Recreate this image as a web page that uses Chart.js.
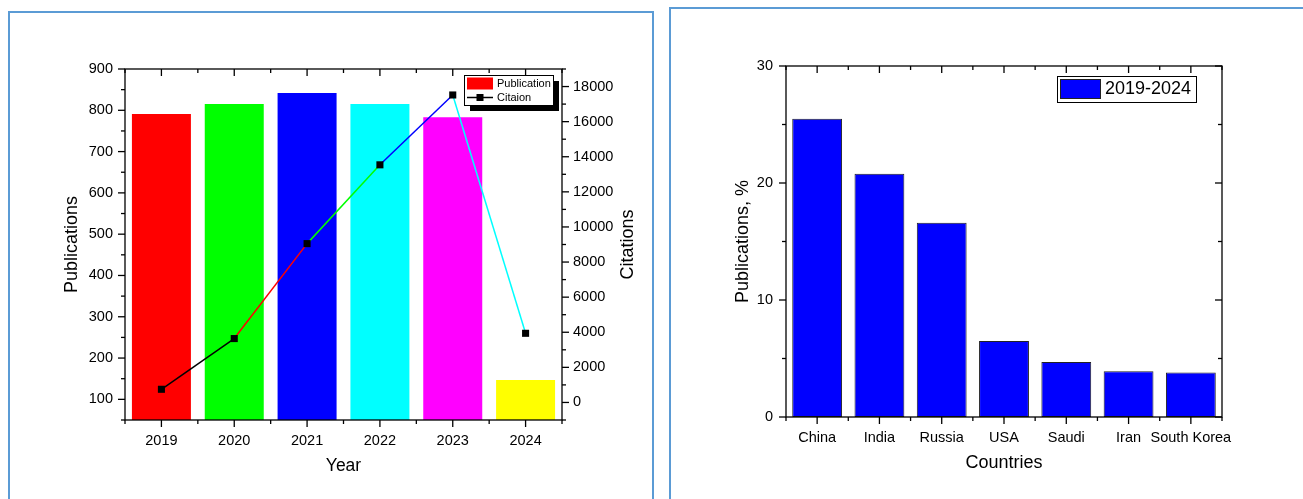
<!DOCTYPE html>
<html>
<head>
<meta charset="utf-8">
<script src="https://cdn.jsdelivr.net/npm/chart.js@4.4.1/dist/chart.umd.min.js"></script>
<style>
    body { margin: 0; background: #fff; width: 1303px; height: 499px; overflow: hidden; position: relative; }
    .box { position: absolute; border: 2px solid #5b9bd5; box-sizing: border-box; }
    #box-left { left: 8px; top: 11px; width: 646px; height: 520px; }
    #box-right { left: 669px; top: 7px; width: 660px; height: 520px; }
    canvas { position: absolute; top: 0; }
    #chart-years { left: 0; }
    #chart-countries { left: 660px; }
</style>
</head>
<body>
<div class="box" id="box-left"></div>
<div class="box" id="box-right"></div>
<canvas id="chart-years" width="660" height="499"></canvas>
<canvas id="chart-countries" width="643" height="499"></canvas>
<script>
// left chart: publications (bars) and citations (line) per year
const years = ['2019', '2020', '2021', '2022', '2023', '2024'];
const publications = [791, 815, 842, 815, 783, 147];
const citations = [750, 3640, 9050, 13540, 17520, 3940];
const yearColors = ['#ff0000', '#00ff00', '#0000ff', '#00ffff', '#ff00ff', '#ffff00'];
const segmentColors = ['#000000', '#ff0000', '#00ff00', '#0000ff', '#00ffff'];
const pubTicks = [100, 200, 300, 400, 500, 600, 700, 800, 900];
const citTicks = [0, 2000, 4000, 6000, 8000, 10000, 12000, 14000, 16000, 18000];

// right chart: share of publications by country
const countries = ['China', 'India', 'Russia', 'USA', 'Saudi', 'Iran', 'South Korea'];
const countryShare = [25.5, 20.8, 16.6, 6.5, 4.7, 3.9, 3.8];
const shareTicks = [0, 10, 20, 30];

Chart.defaults.font.family = '"Liberation Sans", Arial, sans-serif';
Chart.defaults.color = '#000';

function line(ctx, x1, y1, x2, y2) {
    ctx.beginPath();
    ctx.moveTo(x1, y1);
    ctx.lineTo(x2, y2);
    ctx.stroke();
}

// y ticks: majors from the scale, minors half way between
function yTicks(ctx, scale, x, dir) {
    const vals = scale.ticks.map(t => t.value);
    const step = vals[1] - vals[0];
    vals.forEach(v => {
        const y = scale.getPixelForValue(v);
        line(ctx, x, y, x + dir * 7, y);
    });
    for (let v = vals[0] - step / 2; v <= scale.max; v += step) {
        if (v < scale.min) continue;
        const y = scale.getPixelForValue(v);
        line(ctx, x, y, x + dir * 4, y);
    }
}

// x ticks: majors on categories, minors on boundaries
function xTicks(ctx, scale, y, dir) {
    const n = scale.ticks.length;
    const w = n > 1 ? scale.getPixelForValue(1) - scale.getPixelForValue(0) : 0;
    for (let i = 0; i < n; i++) {
        const x = scale.getPixelForValue(i);
        line(ctx, x, y, x, y + dir * 7);
        line(ctx, x - w / 2, y, x - w / 2, y + dir * 4);
    }
    const xe = scale.getPixelForValue(n - 1) + w / 2;
    line(ctx, xe, y, xe, y + dir * 4);
}

const frame = {
    id: 'frame',
    afterDatasetsDraw(chart, args, opts) {
        const ctx = chart.ctx;
        const a = chart.chartArea;
        ctx.save();
        ctx.strokeStyle = '#000';
        ctx.lineWidth = 1.3;
        ctx.strokeRect(a.left, a.top, a.right - a.left, a.bottom - a.top);
        xTicks(ctx, chart.scales.x, a.bottom, 1);
        xTicks(ctx, chart.scales.x, a.top, 1);
        yTicks(ctx, chart.scales.y, a.left, -1);
        if (chart.scales.y1) {
            yTicks(ctx, chart.scales.y1, a.right, 1);
        } else {
            yTicks(ctx, chart.scales.y, a.right, -1);
        }
        ctx.restore();
    },
    afterDraw(chart, args, opts) {
        const ctx = chart.ctx;
        const ds = chart.data.datasets;
        ctx.save();
        if (opts.rightTitle) {
            ctx.save();
            ctx.translate(opts.rightTitle.x, (chart.chartArea.top + chart.chartArea.bottom) / 2);
            ctx.rotate(-Math.PI / 2);
            ctx.font = '18px "Liberation Sans", Arial, sans-serif';
            ctx.fillStyle = '#000';
            ctx.textAlign = 'center';
            ctx.textBaseline = 'middle';
            ctx.fillText(opts.rightTitle.text, 0, 0);
            ctx.restore();
        }
        const L = opts.legend;
        if (L.shadow) {
            ctx.fillStyle = '#000';
            ctx.fillRect(L.x + L.shadow, L.y + L.shadow, L.w, L.h);
        }
        ctx.fillStyle = '#fff';
        ctx.fillRect(L.x, L.y, L.w, L.h);
        ctx.strokeStyle = '#000';
        ctx.lineWidth = 1;
        ctx.strokeRect(L.x + 0.5, L.y + 0.5, L.w, L.h);
        ctx.font = L.font + 'px "Liberation Sans", Arial, sans-serif';
        ctx.textAlign = 'left';
        ctx.textBaseline = 'middle';
        ds.forEach((d, i) => {
            const cy = L.y + L.rowTop + i * L.rowH;
            const sx = L.x + 3;
            if ((d.type || 'bar') === 'bar') {
                const col = Array.isArray(d.backgroundColor) ? d.backgroundColor[0] : d.backgroundColor;
                ctx.fillStyle = col;
                ctx.fillRect(sx, cy - L.sh / 2, L.sw, L.sh);
                if (d.borderWidth) {
                    ctx.strokeStyle = d.borderColor;
                    ctx.lineWidth = 1;
                    ctx.strokeRect(sx + 0.5, cy - L.sh / 2 + 0.5, L.sw - 1, L.sh - 1);
                }
            } else {
                ctx.strokeStyle = d.borderColor;
                ctx.lineWidth = 1.5;
                line(ctx, sx, cy, sx + L.sw, cy);
                ctx.fillStyle = d.pointBackgroundColor;
                ctx.fillRect(sx + L.sw / 2 - 3.5, cy - 3.5, 7, 7);
            }
            ctx.fillStyle = '#000';
            ctx.fillText(d.label, sx + L.sw + 4, cy + 0.5);
        });
        ctx.restore();
    }
};

const plainTick = v => String(v);

const ctxYears = document.getElementById('chart-years').getContext('2d');
const chartYears = new Chart(ctxYears, {
    type: 'bar',
    data: {
        labels: years,
        datasets: [{
            type: 'bar',
            label: 'Publication',
            data: publications,
            backgroundColor: yearColors,
            barPercentage: 0.81,
            categoryPercentage: 1,
            order: 1
        }, {
            type: 'line',
            label: 'Citaion',
            data: citations,
            yAxisID: 'y1',
            borderColor: '#000000',
            borderWidth: 1.5,
            pointStyle: 'rect',
            pointRadius: 5,
            pointBackgroundColor: '#000000',
            pointBorderWidth: 0,
            segment: {
                borderColor: c => segmentColors[c.p0DataIndex]
            },
            order: 0
        }]
    },
    options: {
        responsive: false,
        animation: false,
        layout: { padding: { top: 69, left: 0, right: 0, bottom: 0 } },
        plugins: {
            legend: { display: false },
            tooltip: { enabled: false },
            frame: {
                rightTitle: { text: 'Citations', x: 628 },
                legend: { x: 464, y: 75, w: 89, h: 30, shadow: 6, rowTop: 8.5, rowH: 14, sw: 26, sh: 12, font: 11 }
            }
        },
        scales: {
            x: {
                offset: true,
                grid: { display: false, drawTicks: false },
                border: { display: false },
                ticks: { font: { size: 14.5 }, padding: 12, maxRotation: 0 },
                title: { display: true, text: 'Year', font: { size: 17.5 }, padding: { top: 0, bottom: 22 } },
                afterFit: s => { s.height = 79; }
            },
            y: {
                position: 'left',
                min: 50,
                max: 900,
                grid: { display: false, drawTicks: false },
                border: { display: false },
                afterBuildTicks: s => { s.ticks = pubTicks.map(v => ({ value: v })); },
                ticks: { font: { size: 14.5 }, padding: 12, callback: plainTick },
                title: { display: true, text: 'Publications', font: { size: 18 }, padding: { top: 61, bottom: 0 } },
                afterFit: s => { s.width = 125; }
            },
            y1: {
                position: 'right',
                min: -1000,
                max: 19000,
                grid: { display: false, drawTicks: false },
                border: { display: false },
                afterBuildTicks: s => { s.ticks = citTicks.map(v => ({ value: v })); },
                ticks: { font: { size: 14.5 }, padding: 11, callback: plainTick },
                afterFit: s => { s.width = 98; }
            }
        }
    },
    plugins: [frame]
});

const ctxCountries = document.getElementById('chart-countries').getContext('2d');
const chartCountries = new Chart(ctxCountries, {
    type: 'bar',
    data: {
        labels: countries,
        datasets: [{
            label: '2019-2024',
            data: countryShare,
            backgroundColor: '#0000ff',
            borderColor: '#222222',
            borderWidth: 1,
            borderSkipped: false,
            barPercentage: 0.8,
            categoryPercentage: 1
        }]
    },
    options: {
        responsive: false,
        animation: false,
        layout: { padding: { top: 66, left: 0, right: 81, bottom: 0 } },
        plugins: {
            legend: { display: false },
            tooltip: { enabled: false },
            frame: {
                legend: { x: 397, y: 76, w: 139, h: 26, shadow: 0, rowTop: 13, rowH: 0, sw: 41, sh: 20, font: 18 }
            }
        },
        scales: {
            x: {
                offset: true,
                grid: { display: false, drawTicks: false },
                border: { display: false },
                ticks: { font: { size: 14.5 }, padding: 12, maxRotation: 0, autoSkip: false },
                title: { display: true, text: 'Countries', font: { size: 18 }, padding: { top: 0, bottom: 25 } },
                afterFit: s => { s.height = 82; }
            },
            y: {
                min: 0,
                max: 30,
                grid: { display: false, drawTicks: false },
                border: { display: false },
                afterBuildTicks: s => { s.ticks = shareTicks.map(v => ({ value: v })); },
                ticks: { font: { size: 14.5 }, padding: 13, callback: plainTick },
                title: { display: true, text: 'Publications, %', font: { size: 18 }, padding: { top: 72, bottom: 0 } },
                afterFit: s => { s.width = 126; }
            }
        }
    },
    plugins: [frame]
});
</script>
</body>
</html>
